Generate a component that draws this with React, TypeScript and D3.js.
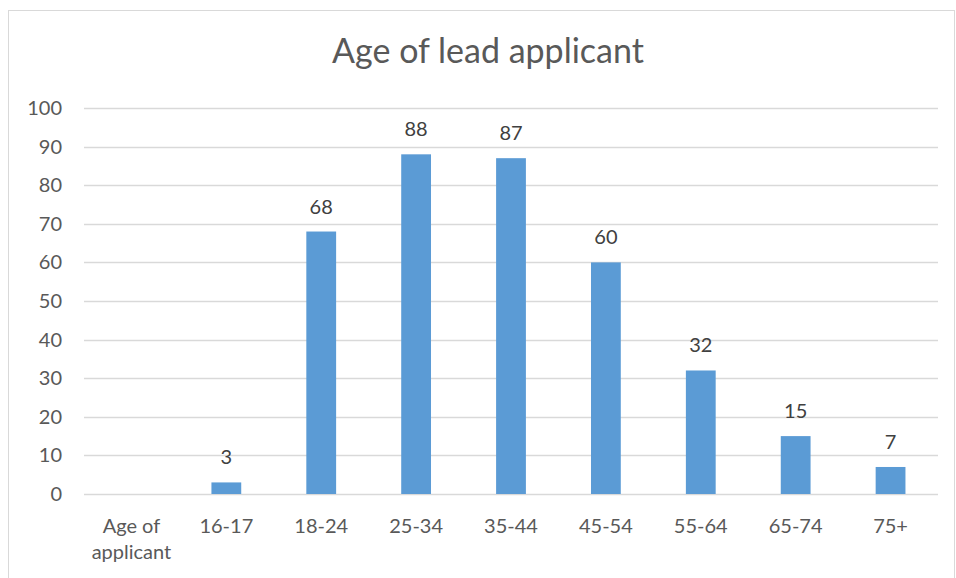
import React, { useEffect, useRef } from 'react';
import * as d3 from 'd3';

const categories = ['Age of applicant', '16-17', '18-24', '25-34', '35-44', '45-54', '55-64', '65-74', '75+'];
const values: (number | null)[] = [null, 3, 68, 88, 87, 60, 32, 15, 7];
const yTicks = [0, 10, 20, 30, 40, 50, 60, 70, 80, 90, 100];
const title = 'Age of lead applicant';

const App = () => {
    const ref = useRef<SVGSVGElement>(null);

    useEffect(() => {
        const svg = d3.select(ref.current);
        svg.selectAll('*').remove();

        const W = 956, H = 578;
        const plot = { left: 84, right: 938, top: 108, bottom: 494 };
        const font = 'Lato, "Open Sans", sans-serif';
        const textColor = '#595959';

        // chart border
        svg.append('rect')
            .attr('x', 8.5).attr('y', 10.5)
            .attr('width', W - 10).attr('height', H)
            .attr('fill', '#fff')
            .attr('stroke', '#d9d9d9');

        const x = d3.scaleBand()
            .domain(categories)
            .range([plot.left, plot.right])
            .paddingInner(0.686)
            .paddingOuter(0.343);

        const y = d3.scaleLinear()
            .domain([0, 100])
            .range([plot.bottom, plot.top]);

        // gridlines
        svg.append('g')
            .selectAll('line')
            .data(yTicks)
            .enter()
            .append('line')
            .attr('x1', plot.left).attr('x2', plot.right)
            .attr('y1', d => Math.round(y(d)) + 0.5)
            .attr('y2', d => Math.round(y(d)) + 0.5)
            .attr('stroke', '#d9d9d9')
            .attr('stroke-width', 1.3);

        // y tick labels
        svg.append('g')
            .selectAll('text')
            .data(yTicks)
            .enter()
            .append('text')
            .attr('x', 62)
            .attr('y', d => y(d) + 7)
            .attr('text-anchor', 'end')
            .attr('font-family', font)
            .attr('font-size', 20)
            .attr('fill', textColor)
            .text(d => d);

        const data = categories.map((c, i) => ({ c, v: values[i] }))
            .filter(d => d.v !== null) as { c: string; v: number }[];

        // bars
        svg.append('g')
            .selectAll('rect')
            .data(data)
            .enter()
            .append('rect')
            .attr('x', d => x(d.c)!)
            .attr('width', x.bandwidth())
            .attr('y', d => y(d.v))
            .attr('height', d => y(0) - y(d.v))
            .attr('fill', '#5b9bd5');

        // data labels
        svg.append('g')
            .selectAll('text')
            .data(data)
            .enter()
            .append('text')
            .attr('x', d => x(d.c)! + x.bandwidth() / 2)
            .attr('y', d => y(d.v) - 18)
            .attr('text-anchor', 'middle')
            .attr('font-family', font)
            .attr('font-size', 20)
            .attr('fill', '#404040')
            .text(d => d.v);

        // category labels (wrap the long one)
        const catG = svg.append('g');
        categories.forEach(c => {
            const cx = x(c)! + x.bandwidth() / 2;
            const lines = c === 'Age of applicant' ? ['Age of', 'applicant'] : [c];
            const t = catG.append('text')
                .attr('text-anchor', 'middle')
                .attr('font-family', font)
                .attr('font-size', 20)
                .attr('fill', textColor);
            lines.forEach((l, i) => {
                t.append('tspan').attr('x', cx).attr('y', 533 + i * 26).text(l);
            });
        });

        // title
        svg.append('text')
            .attr('x', 488)
            .attr('y', 63)
            .attr('text-anchor', 'middle')
            .attr('font-family', font)
            .attr('font-size', 34)
            .attr('fill', textColor)
            .text(title);
    }, []);

    return (
        <svg ref={ref} width={956} height={578}
            style={{ position: 'absolute', left: 0, top: 0, display: 'block' }} />
    );
};

export default App;
